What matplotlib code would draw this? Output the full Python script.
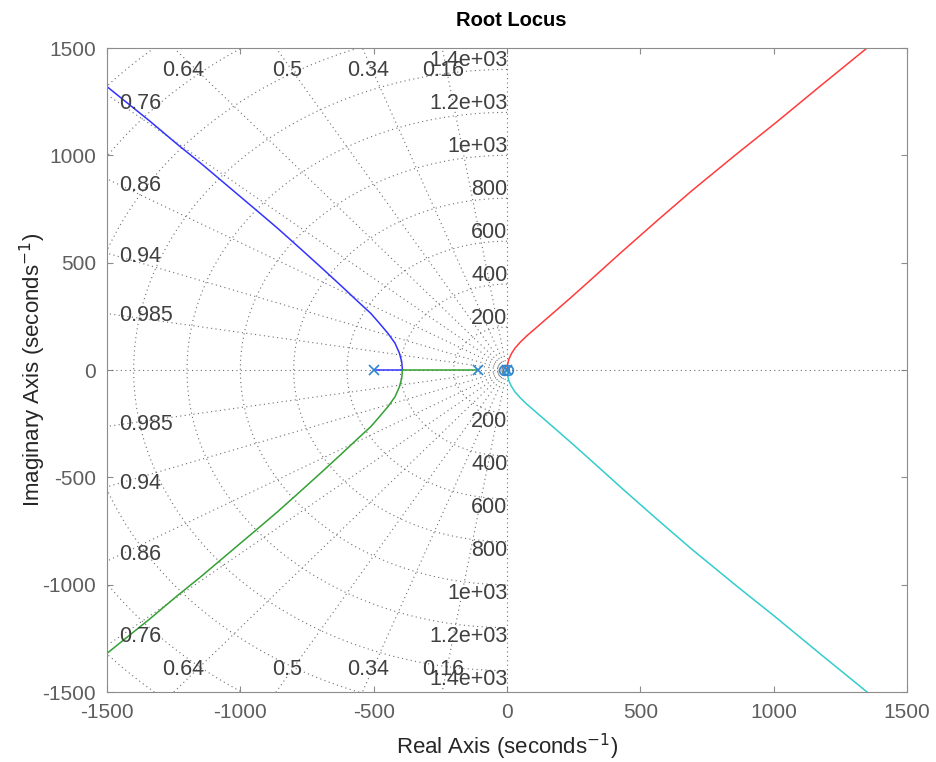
import numpy as np
import matplotlib
matplotlib.use("Agg")
import matplotlib.pyplot as plt

plt.rcParams['font.family'] = ['Liberation Sans', 'DejaVu Sans']
plt.rcParams['axes.unicode_minus'] = False

# poles / zeros
pole_re = [-500, -110, 0]
zero_re = [-12, 3]

# upper branch leaving the left pair (blue)
blue_re = [-500, -392, -395, -404, -420, -446, -480, -511, -560, -620, -690, -770,
           -860, -948, -1050, -1150, -1233, -1340, -1420, -1515]
blue_im = [0, 0, 40, 80, 125, 170, 220, 264, 320, 390, 470, 560,
           660, 753, 860, 965, 1048, 1160, 1240, 1335]
# green branch: from -110 to breakaway then down
green_re = [-110, -392, -395, -404, -420, -446, -480, -511, -560, -620, -690, -770,
            -860, -948, -1050, -1150, -1233, -1340, -1420, -1515]
green_im = [0, 0, -40, -80, -125, -170, -220, -264, -320, -390, -470, -560,
            -660, -753, -860, -965, -1048, -1160, -1240, -1335]
# red branch from origin up right, cyan mirrors it
red_re = [0, 2, 7, 16, 30, 50, 75, 105, 140, 180, 240, 305, 430, 567, 693, 855,
          1011, 1180, 1365]
red_im = [0, 25, 50, 75, 102, 130, 160, 192, 230, 273, 338, 410, 550, 700, 835,
          1000, 1155, 1328, 1515]
cyan_re = red_re
cyan_im = [-v for v in red_im]

zetas = [0.16, 0.34, 0.5, 0.64, 0.76, 0.86, 0.94, 0.985]
wns = [200, 400, 600, 800, 1000, 1200, 1400, 1600, 1800, 2000]
wn_labels = ['200', '400', '600', '800', '1e+03', '1.2e+03', '1.4e+03']

# label spots for the damping values
zeta_top = [('0.64', -1215), ('0.5', -825), ('0.34', -521), ('0.16', -240)]
zeta_left = [('0.76', 1240), ('0.86', 858), ('0.94', 527), ('0.985', 252)]

fig = plt.figure(figsize=(9.37, 7.62), dpi=100)
ax = fig.add_axes([107/937, 1-692/762, 800/937, 644/762])

gcol = '#6e6e6e'
gls = (0, (1, 3))
# sgrid
ax.plot([-1500, 1500], [0, 0], ls=gls, color=gcol, lw=0.8)
ax.plot([0, 0], [-1500, 1500], ls=gls, color=gcol, lw=0.8)
th = np.linspace(np.pi/2, 3*np.pi/2, 400)
for w in wns:
    ax.plot(w*np.cos(th), w*np.sin(th), ls=gls, color=gcol, lw=0.8)
for z in zetas:
    R = 2300
    s = np.sqrt(1 - z**2)
    ax.plot([0, -R*z], [0, R*s], ls=gls, color=gcol, lw=0.8)
    ax.plot([0, -R*z], [0, -R*s], ls=gls, color=gcol, lw=0.8)

tcol = '#404040'
fs = 15.5
for txt, x in zeta_top:
    ax.text(x, 1397, txt, ha='center', va='center', fontsize=fs, color=tcol, clip_on=False)
    ax.text(x, -1397, txt, ha='center', va='center', fontsize=fs, color=tcol, clip_on=False)
for txt, y in zeta_left:
    ax.text(-1455, y, txt, ha='left', va='center', fontsize=fs, color=tcol)
    ax.text(-1455, -y, txt, ha='left', va='center', fontsize=fs, color=tcol)
for w, txt in zip(wns, wn_labels):
    ax.text(2, w - 8, txt, ha='right', va='bottom', fontsize=fs, color=tcol, clip_on=False)
    ax.text(2, -w + 8, txt, ha='right', va='top', fontsize=fs, color=tcol, clip_on=False)

# locus
ax.plot(blue_re, blue_im, color='#3333ff', lw=1.1)
ax.plot(green_re, green_im, color='#33a033', lw=1.1)
ax.plot(red_re, red_im, color='#ff3b3b', lw=1.1)
ax.plot(cyan_re, cyan_im, color='#33cccc', lw=1.1)

mcol = '#2f86d0'
ax.plot(pole_re, [0]*len(pole_re), 'x', color=mcol, ms=7, mew=1.2)
ax.plot(zero_re, [0]*len(zero_re), 'o', color=mcol, ms=7, mew=1.2, mfc='none')

ax.set_xlim(-1500, 1500)
ax.set_ylim(-1500, 1500)
ax.set_xticks([-1500, -1000, -500, 0, 500, 1000, 1500])
ax.set_yticks([-1500, -1000, -500, 0, 500, 1000, 1500])
ax.tick_params(direction='in', length=4, width=0.8, colors='#8c8c8c', labelcolor='#5e5e5e',
               labelsize=15, top=True, right=True, pad=8)
for sp in ax.spines.values():
    sp.set_color('#8c8c8c')
    sp.set_linewidth(0.8)

fig.text(511/937, 1-20/762, 'Root Locus', fontsize=14.5, fontweight='bold',
         ha='center', va='center')
ax.set_xlabel('Real Axis (seconds$^{-1}$)', fontsize=16, color='#262626')
ax.set_ylabel('Imaginary Axis (seconds$^{-1}$)', fontsize=16, color='#262626')
ax.xaxis.set_label_coords(0.5, -0.062)
ax.yaxis.set_label_coords(-0.074, 0.5)

fig.savefig('out.png', dpi=100)
